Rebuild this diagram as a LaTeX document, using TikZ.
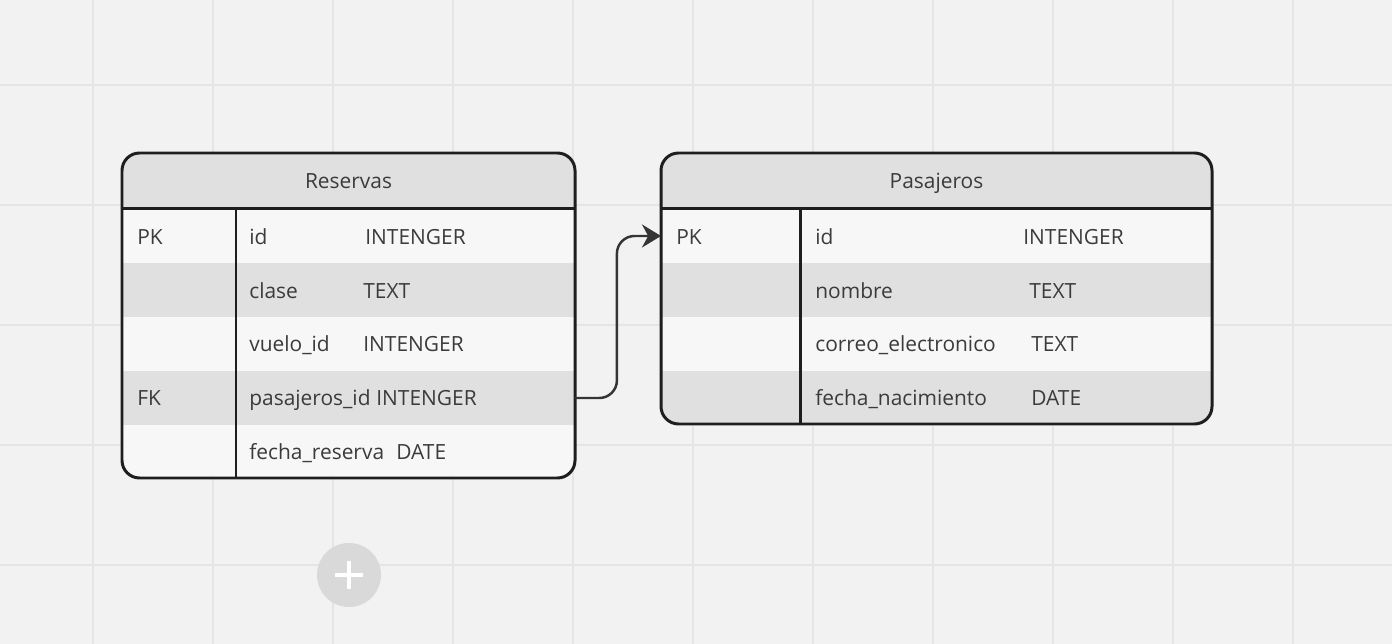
\documentclass[tikz,border=0pt]{standalone}
\usepackage{fontspec}
\setmainfont{Open Sans}
\usetikzlibrary{arrows.meta}

\definecolor{canvas}{HTML}{F2F2F2}
\definecolor{gridline}{HTML}{E5E5E5}
\definecolor{rowlight}{HTML}{F7F7F7}
\definecolor{rowdark}{HTML}{E0E0E0}
\definecolor{edge}{HTML}{1E1E1E}
\definecolor{ink}{HTML}{3B3B3B}
\definecolor{plusbtn}{HTML}{D9D9D9}

\tikzset{
  gridrule/.style={draw=gridline, line width=1.1pt},
  row/.style={inner sep=0pt, outer sep=0pt, anchor=north west, minimum height=1.08cm},
  lrow/.style={row, fill=rowlight},
  drow/.style={row, fill=rowdark},
  hrow/.style={row, fill=rowdark, minimum height=1.12cm},
  txt/.style={inner sep=0pt, anchor=base west, text=ink, font=\fontsize{11.9}{14.3}\selectfont},
  tableedge/.style={draw=edge, line width=1.7pt},
  fklink/.style={draw=edge!90, line width=1.4pt, rounded corners=10,
    -{Stealth[length=0.38cm, width=0.46cm]}},
}

\begin{document}
\begin{tikzpicture}[x=0.02cm, y=-0.02cm]
\useasboundingbox[fill=canvas] (0,0) rectangle (1392,644);

% grid
\foreach \gx in {93,213,...,1293} \draw[gridrule] (\gx,0) -- (\gx,644);
\foreach \gy in {85,205,...,565} \draw[gridrule] (0,\gy) -- (1392,\gy);

% Reservas
\begin{scope}
\clip[rounded corners=10] (122,153) rectangle (575,478);
\node[hrow, minimum width=9.06cm] (resHead) at (122,153) {};
\node[lrow, minimum width=9.06cm] (resR1) at (122,209) {};
\node[drow, minimum width=9.06cm] (resR2) at (122,263) {};
\node[lrow, minimum width=9.06cm] (resR3) at (122,317) {};
\node[drow, minimum width=9.06cm] (resR4) at (122,371) {};
\node[lrow, minimum width=9.06cm] (resR5) at (122,425) {};
\end{scope}
\draw[tableedge, rounded corners=10] (122,153) rectangle (575,478);
\draw[tableedge] (resHead.south west) -- (resHead.south east);
\draw[tableedge] (236,209) -- (236,478);

\node[txt, anchor=base] (resTitle) at (348.5,189) {Reservas};
\node[txt] (resPk) at (137,245) {PK};
\node[txt] (resFk) at (137,406) {FK};
\node[txt] (resId) at (249,245) {id};
\node[txt] (resIdT) at (365,245) {INTENGER};
\node[txt] (resClase) at (249,299) {clase};
\node[txt] (resClaseT) at (363,299) {TEXT};
\node[txt] (resVuelo) at (249,352) {vuelo\_id};
\node[txt] (resVueloT) at (363,352) {INTENGER};
\node[txt] (resPas) at (249,406) {pasajeros\_id};
\node[txt] (resPasT) at (376,406) {INTENGER};
\node[txt] (resFecha) at (249,460) {fecha\_reserva};
\node[txt] (resFechaT) at (396,460) {DATE};

% Pasajeros
\begin{scope}
\clip[rounded corners=10] (661,153) rectangle (1212,424);
\node[hrow, minimum width=11.02cm] (pasHead) at (661,153) {};
\node[lrow, minimum width=11.02cm] (pasR1) at (661,209) {};
\node[drow, minimum width=11.02cm] (pasR2) at (661,263) {};
\node[lrow, minimum width=11.02cm] (pasR3) at (661,317) {};
\node[drow, minimum width=11.02cm] (pasR4) at (661,371) {};
\end{scope}
\draw[tableedge, rounded corners=10] (661,153) rectangle (1212,424);
\draw[tableedge] (pasHead.south west) -- (pasHead.south east);
\draw[tableedge] (800,209) -- (800,424);

\node[txt, anchor=base] (pasTitle) at (936.5,189) {Pasajeros};
\node[txt] (pasPk) at (676,245) {PK};
\node[txt] (pasId) at (815,245) {id};
\node[txt] (pasIdT) at (1023,245) {INTENGER};
\node[txt] (pasNombre) at (815,299) {nombre};
\node[txt] (pasNombreT) at (1029,299) {TEXT};
\node[txt] (pasCorreo) at (815,352) {correo\_electronico};
\node[txt] (pasCorreoT) at (1031,352) {TEXT};
\node[txt] (pasFecha) at (815,406) {fecha\_nacimiento};
\node[txt] (pasFechaT) at (1031,406) {DATE};

% foreign key
\draw[fklink] (resR4.east) -- ++(42,0) |- (pasR1.west);

% add button
\node[circle, fill=plusbtn, minimum size=1.28cm, inner sep=0pt] (addBtn) at (349,575) {};
\draw[white, line width=2.3pt] (addBtn.center) ++(-14,0) -- ++(28,0);
\draw[white, line width=2.3pt] (addBtn.center) ++(0,-14) -- ++(0,28);
\end{tikzpicture}
\end{document}
